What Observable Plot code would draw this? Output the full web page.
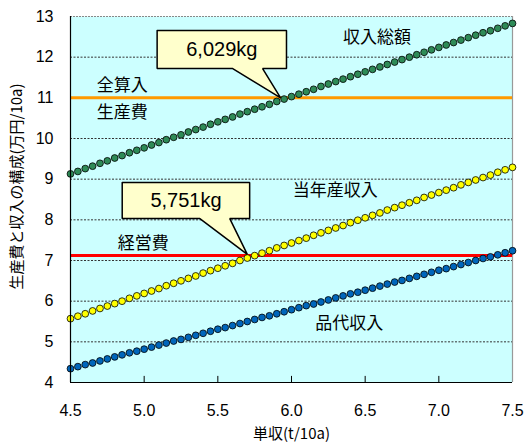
<!DOCTYPE html>
<html>
<head>
<meta charset="utf-8">
<script src="https://cdn.jsdelivr.net/npm/d3@7"></script>
<script src="https://cdn.jsdelivr.net/npm/@observablehq/plot@0.6"></script>
<style>
  body { margin: 0; background: #fff; }
</style>
</head>
<body>
<div id="chart"></div>
<script>
// x: 単収 (t/10a)
const xs = [4.50,4.55,4.60,4.65,4.70,4.75,4.80,4.85,4.90,4.95,
            5.00,5.05,5.10,5.15,5.20,5.25,5.30,5.35,5.40,5.45,
            5.50,5.55,5.60,5.65,5.70,5.75,5.80,5.85,5.90,5.95,
            6.00,6.05,6.10,6.15,6.20,6.25,6.30,6.35,6.40,6.45,
            6.50,6.55,6.60,6.65,6.70,6.75,6.80,6.85,6.90,6.95,
            7.00,7.05,7.10,7.15,7.20,7.25,7.30,7.35,7.40,7.45,7.50];
// 収入総額
const totalIncome = [9.13,9.19,9.26,9.32,9.39,9.45,9.52,9.58,9.65,9.71,
                     9.77,9.84,9.90,9.97,10.03,10.09,10.16,10.22,10.28,10.35,
                     10.41,10.47,10.53,10.60,10.66,10.72,10.78,10.84,10.91,10.97,
                     11.03,11.09,11.15,11.21,11.28,11.34,11.40,11.46,11.52,11.58,
                     11.64,11.70,11.76,11.82,11.88,11.94,12.00,12.06,12.12,12.18,
                     12.24,12.30,12.36,12.42,12.48,12.54,12.60,12.65,12.71,12.77,12.83];
// 当年産収入
const currentIncome = [5.57,5.63,5.69,5.76,5.82,5.88,5.94,6.00,6.07,6.13,
                       6.19,6.25,6.31,6.38,6.44,6.50,6.56,6.62,6.69,6.75,
                       6.81,6.87,6.93,7.00,7.06,7.12,7.18,7.24,7.31,7.37,
                       7.43,7.49,7.55,7.62,7.68,7.74,7.80,7.86,7.93,7.99,
                       8.05,8.11,8.17,8.24,8.30,8.36,8.42,8.48,8.55,8.61,
                       8.67,8.73,8.79,8.86,8.92,8.98,9.04,9.10,9.17,9.23,9.29];
// 品代収入
const productIncome = [4.34,4.39,4.44,4.48,4.53,4.58,4.63,4.68,4.73,4.77,
                       4.82,4.87,4.92,4.97,5.02,5.06,5.11,5.16,5.21,5.26,
                       5.31,5.35,5.40,5.45,5.50,5.55,5.60,5.64,5.69,5.74,
                       5.79,5.84,5.89,5.93,5.98,6.03,6.08,6.13,6.18,6.22,
                       6.27,6.32,6.37,6.42,6.47,6.51,6.56,6.61,6.66,6.71,
                       6.76,6.80,6.85,6.90,6.95,7.00,7.05,7.09,7.14,7.19,7.24];
// cost levels
const fullCost = 11.0;      // 全算入生産費
const operatingCost = 7.12; // 経営費

const xTicks = [4.5,5.0,5.5,6.0,6.5,7.0,7.5];
const yTicks = [4,5,6,7,8,9,10,11,12,13];
const gridY = [5,6,7,8,9,10,11,12];

// annotations (data coordinates)
const seriesLabels = [
  {x: 6.581, y: 12.48, text: "収入総額"},
  {x: 4.851, y: 11.30, text: "全算入"},
  {x: 4.851, y: 10.64, text: "生産費"},
  {x: 6.297, y: 8.72,  text: "当年産収入"},
  {x: 4.993, y: 7.42,  text: "経営費"},
  {x: 6.392, y: 5.45,  text: "品代収入"}
];
const callout1 = [[5.088,12.655],[5.966,12.655],[5.966,11.72],[5.804,11.72],[5.926,11.0],[5.601,11.72],[5.088,11.72],[5.088,12.655]];
const callout2 = [[4.851,8.918],[5.716,8.918],[5.716,8.03],[5.581,8.03],[5.70,7.15],[5.378,8.03],[4.851,8.03],[4.851,8.918]];
const calloutTexts = [
  {x: 5.527, y: 12.19, text: "6,029kg"},
  {x: 5.284, y: 8.475, text: "5,751kg"}
];

const mk = (arr) => xs.map((x, i) => ({x, y: arr[i]}));
const jp = "'Noto Sans CJK JP', 'Noto Sans', sans-serif";
const latin = "'Liberation Sans', Arial, sans-serif";

const chart = Plot.plot({
  width: 524,
  height: 442,
  marginLeft: 70,
  marginRight: 12,
  marginTop: 16,
  marginBottom: 60,
  style: {fontFamily: latin, fontSize: "16px", background: "#fff", color: "#000"},
  x: {domain: [4.5, 7.5]},
  y: {domain: [4, 13]},
  marks: [
    Plot.frame({fill: "#ccffff", stroke: "none"}),
    Plot.ruleY(gridY, {stroke: "#333", strokeWidth: 1, strokeDasharray: "2,1.5"}),
    Plot.ruleY([13], {stroke: "#888", strokeWidth: 1, strokeDasharray: "2,1"}),
    Plot.ruleX([7.5], {stroke: "#999", strokeWidth: 1.2}),
    Plot.ruleY([fullCost], {stroke: "#ff9900", strokeWidth: 3}),
    Plot.ruleY([operatingCost], {stroke: "#ff0000", strokeWidth: 3}),
    Plot.dot(mk(totalIncome), {x: "x", y: "y", r: 3.4, fill: "#2e8b57", stroke: "#000", strokeWidth: 0.8}),
    Plot.dot(mk(currentIncome), {x: "x", y: "y", r: 3.4, fill: "#ffff00", stroke: "#000", strokeWidth: 0.8}),
    Plot.dot(mk(productIncome), {x: "x", y: "y", r: 3.4, fill: "#0066bb", stroke: "#000", strokeWidth: 0.8}),
    Plot.line(callout1, {x: d => d[0], y: d => d[1], fill: "#ffffcc", stroke: "#000", strokeWidth: 1.5, strokeLinejoin: "miter"}),
    Plot.line(callout2, {x: d => d[0], y: d => d[1], fill: "#ffffcc", stroke: "#000", strokeWidth: 1.5, strokeLinejoin: "miter"}),
    Plot.text(calloutTexts, {x: "x", y: "y", text: "text", fontSize: 20, fontFamily: latin, fill: "#000"}),
    Plot.text(seriesLabels, {x: "x", y: "y", text: "text", fontSize: 17, fontFamily: jp, fill: "#000", letterSpacing: "2.5px"}),
    Plot.ruleX([5.0,5.5,6.0,6.5,7.0], {y1: 4, y2: 4.15, stroke: "#000", strokeWidth: 1}),
    Plot.ruleX([4.5], {stroke: "#000", strokeWidth: 1.2}),
    Plot.ruleY([4], {stroke: "#000", strokeWidth: 1.2}),
    Plot.axisY({ticks: yTicks, tickSize: 0, tickPadding: 17, label: null, fontSize: 16, fill: "#000"}),
    Plot.axisX({ticks: xTicks, tickSize: 0, tickPadding: 22, label: null, tickFormat: d3.format(".1f"), fontSize: 16, fill: "#000"}),
    Plot.text(["単収(t/10a)"], {frameAnchor: "bottom", dy: 52, lineAnchor: "middle", textAnchor: "middle", fontSize: 15, fontFamily: jp, fill: "#000"}),
    Plot.text(["生産費と収入の構成(万円/10a)"], {frameAnchor: "left", y: () => 8.82, dx: -53, rotate: -90, textAnchor: "middle", lineAnchor: "middle", fontSize: 15, fontFamily: jp, fill: "#000"})
  ]
});
document.getElementById("chart").appendChild(chart);
</script>
</body>
</html>
